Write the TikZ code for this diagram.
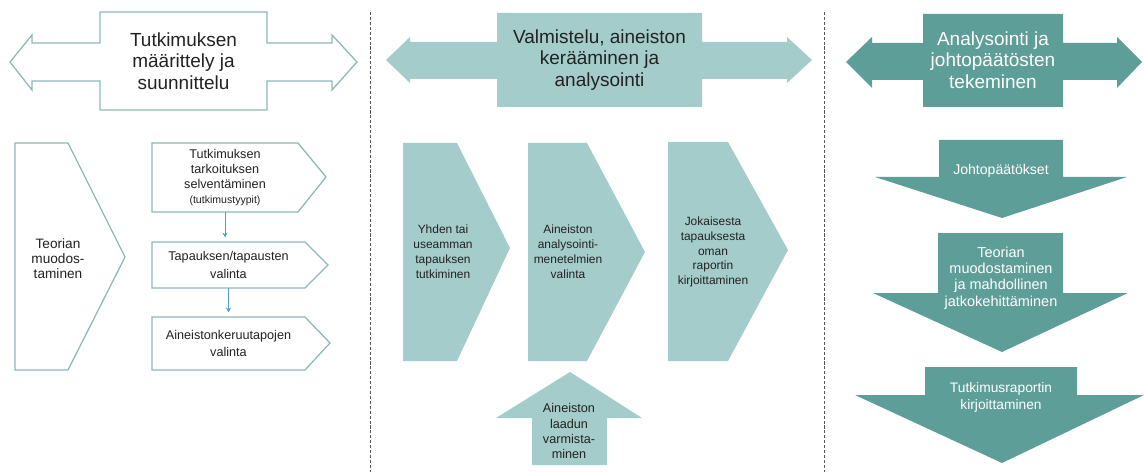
\documentclass[tikz,border=0pt]{standalone}
\usepackage{fontspec}
\setmainfont{Liberation Sans}
\usepackage{tikz}
\usetikzlibrary{arrows.meta}

\definecolor{tealedge}{RGB}{141,184,184}
\definecolor{teallight}{RGB}{163,204,203}
\definecolor{tealdark}{RGB}{94,158,153}
\definecolor{linkblue}{RGB}{79,159,201}
\definecolor{dividergray}{RGB}{85,85,85}
\definecolor{textdark}{RGB}{34,34,34}

\begin{document}
\begin{tikzpicture}[
        x=0.025cm, y=-0.025cm,
        outlinebox/.style={draw=tealedge, fill=white, line width=0.9pt, line join=miter},
        lightbox/.style={fill=teallight},
        darkbox/.style={fill=tealdark},
        headtext/.style={align=center, inner sep=0pt, text=textdark, font=\fontsize{13.5}{15.4}\selectfont},
        boxtext/.style={align=center, inner sep=0pt, text=textdark, font=\fontsize{9}{12.5}\selectfont},
        chevtext/.style={align=center, inner sep=0pt, text=textdark, font=\fontsize{8.5}{10.6}\selectfont},
        downtext/.style={align=center, inner sep=0pt, text=white, font=\fontsize{10}{11.6}\selectfont},
        phaseline/.style={draw=dividergray, line width=0.6pt, dash pattern=on 2.2pt off 1.3pt},
        link/.style={-{Stealth[length=3.5pt,width=3.5pt]}, draw=linkblue, line width=0.5pt, shorten >=3pt}
        ]
        \useasboundingbox (0,0) rectangle (1144,472);

        % Phase dividers
        \draw[phaseline] (370,12) -- (370,472);
        \draw[phaseline] (824,12) -- (824,472);

        % Header arrows
        \draw[outlinebox] (100,12) -- (267,12) -- (267,43) -- (332,43) -- (332,35) -- (357,62) -- (332,90) -- (332,81)
            -- (267,81) -- (267,110) -- (100,110) -- (100,81) -- (32,81) -- (32,90) -- (10,62) -- (32,35) -- (32,43) -- (100,43) -- cycle;
        \fill[lightbox] (497,13) -- (702,13) -- (702,42) -- (787,42) -- (787,37) -- (812,60) -- (787,83) -- (787,79)
            -- (702,79) -- (702,107) -- (497,107) -- (497,79) -- (410,79) -- (410,83) -- (386,60) -- (410,37) -- (410,42) -- (497,42) -- cycle;
        \fill[darkbox] (923,14) -- (1063,14) -- (1063,43) -- (1117,43) -- (1117,37) -- (1142,62) -- (1117,88) -- (1117,80)
            -- (1063,80) -- (1063,107) -- (923,107) -- (923,80) -- (872,80) -- (872,88) -- (846,62) -- (872,37) -- (872,43) -- (923,43) -- cycle;

        \node[headtext] (hDefine) at (183.5,61) {Tutkimuksen\\määrittely ja\\suunnittelu};
        \node[headtext] (hCollect) at (599.5,60) {Valmistelu, aineiston\\kerääminen ja\\analysointi};
        \node[headtext, text=white] (hAnalyse) at (993,60) {Analysointi ja\\johtopäätösten\\tekeminen};

        % Phase 1: definition and planning
        \draw[outlinebox] (15,143) -- (68,143) -- (125,257) -- (68,370) -- (15,370) -- cycle;
        \draw[outlinebox] (152,143) -- (298,143) -- (326,177) -- (298,212) -- (152,212) -- cycle;
        \draw[outlinebox] (152,242) -- (305,242) -- (328,265) -- (305,288) -- (152,288) -- cycle;
        \draw[outlinebox] (152,317) -- (305,317) -- (330,343) -- (305,370) -- (152,370) -- cycle;

        \node[boxtext, font=\fontsize{9.7}{10.6}\selectfont] (theory) at (58,259) {Teorian\\muodos-\\taminen};
        \node[boxtext, font=\fontsize{9}{10.7}\selectfont, minimum width=3.65cm, minimum height=1.725cm] (purpose) at (225,177.5)
            {Tutkimuksen\\tarkoituksen\\selventäminen\\{\fontsize{7.5}{10.7}\selectfont(tutkimustyypit)}};
        \node[boxtext, minimum width=3.825cm, minimum height=1.15cm] (cases) at (228.5,265) {Tapauksen/tapausten\\valinta};
        \node[boxtext, minimum width=3.825cm, minimum height=1.325cm] (methods) at (228.5,343.5) {Aineistonkeruutapojen\\valinta};

        \draw[link] (purpose.south) -- (purpose.south |- cases.north);
        \draw[link] (cases.south) -- (methods.north);

        % Phase 2: preparation, collection and analysis
        \fill[lightbox] (403,143) -- (457,143) -- (510,248) -- (457,361) -- (403,361) -- cycle;
        \fill[lightbox] (528,143) -- (587,143) -- (645,252) -- (587,361) -- (528,361) -- cycle;
        \fill[lightbox] (668,142) -- (728,142) -- (788,250) -- (728,361) -- (668,361) -- cycle;
        \fill[lightbox] (570,372) -- (642,418) -- (607,418) -- (607,465) -- (532,465) -- (532,418) -- (496,418) -- cycle;

        \node[chevtext] (study) at (443,252) {Yhden tai\\useamman\\tapauksen\\tutkiminen};
        \node[chevtext] (analysis) at (568,252) {Aineiston\\analysointi-\\menetelmien\\valinta};
        \node[chevtext] (reports) at (713,252) {Jokaisesta\\tapauksesta\\oman\\raportin\\kirjoittaminen};
        \node[chevtext, font=\fontsize{9}{10.7}\selectfont] (quality) at (569,431) {Aineiston\\laadun\\varmista-\\minen};

        % Phase 3: analysis and conclusions
        \fill[darkbox] (939,140) -- (1063,140) -- (1063,177) -- (1127,177) -- (1002,218) -- (875,177) -- (939,177) -- cycle;
        \fill[darkbox] (938,233) -- (1063,233) -- (1063,293) -- (1128,293) -- (1002,352) -- (873,293) -- (938,293) -- cycle;
        \fill[darkbox] (925,367) -- (1077,367) -- (1077,395) -- (1144,395) -- (1002,463) -- (855,395) -- (925,395) -- cycle;

        \node[downtext] (conclusions) at (1001,171) {Johtopäätökset};
        \node[downtext, font=\fontsize{10.3}{11.6}\selectfont] (theorybuild) at (1001,278) {Teorian\\muodostaminen\\ja mahdollinen\\jatkokehittäminen};
        \node[downtext, font=\fontsize{9.8}{12}\selectfont] (report) at (1001,397) {Tutkimusraportin\\kirjoittaminen};

    \end{tikzpicture}
\end{document}
